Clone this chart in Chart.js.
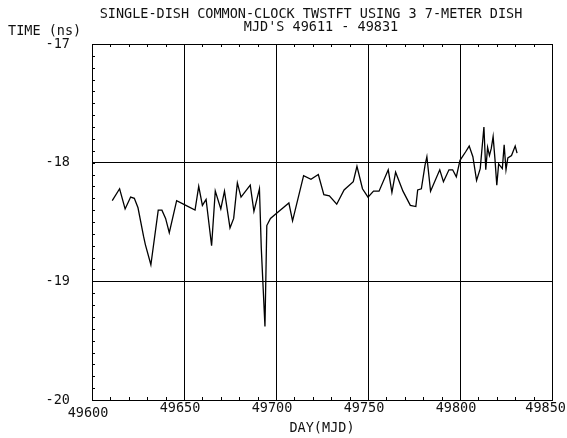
<!DOCTYPE html>
<html>
<head>
<meta charset="utf-8">
<script src="https://cdn.jsdelivr.net/npm/chart.js@4/dist/chart.umd.min.js"></script>
<style>
html,body{margin:0;padding:0;background:#fff;}
#wrap{width:567px;height:438px;}
</style>
</head>
<body>
<div id="wrap"><canvas id="c" width="567" height="438"></canvas></div>
<script>
// ---- data ----
const days = [49611,49615,49618,49621,49623,49625,49628,49629,49632,49636,49638,49640,49642,49646,
  49651,49656,49658,49660,49662,49665,49667,49670,49672,49675,49677,49679,49681,49686,49688,49691,
  49692,49694,49695,49697,49700,49707,49709,49715,49719,49723,49726,49729,49733,49737,49742,49744,
  49747,49750,49753,49756,49761,49763,49765,49769,49773,49776,49777,49779,49781,49782,49784,49789,
  49791,49794,49796,49798,49800,49803,49805,49807,49809,49811,49813,49814,49815,49816,49817,49818,
  49819,49820,49821,49823,49824,49825,49826,49828,49830,49831];
const timeNs = [-18.32,-18.22,-18.39,-18.29,-18.30,-18.38,-18.62,-18.69,-18.86,-18.40,-18.40,-18.47,-18.59,-18.32,
  -18.36,-18.40,-18.20,-18.36,-18.31,-18.70,-18.24,-18.39,-18.24,-18.55,-18.47,-18.17,-18.29,-18.19,-18.41,-18.22,
  -18.72,-19.38,-18.53,-18.47,-18.43,-18.34,-18.49,-18.11,-18.14,-18.10,-18.27,-18.28,-18.35,-18.23,-18.16,-18.03,
  -18.22,-18.29,-18.24,-18.24,-18.06,-18.25,-18.08,-18.24,-18.36,-18.37,-18.23,-18.22,-18.02,-17.95,-18.24,-18.06,
  -18.16,-18.06,-18.06,-18.12,-17.98,-17.91,-17.86,-17.95,-18.15,-18.05,-17.70,-18.06,-17.87,-17.94,-17.88,-17.78,
  -17.97,-18.19,-18.01,-18.05,-17.85,-18.06,-17.96,-17.94,-17.86,-17.92];
const xTickValues = [49600,49650,49700,49750,49800,49850];
const xTickLabels = ['49600','49650','49700','49750','49800','49850'];
const yTickValues = [-17,-18,-19,-20];
const yTickLabels = ['-17','-18','-19','-20'];
const titleLines = ['SINGLE-DISH COMMON-CLOCK TWSTFT USING 3 7-METER DISH', "MJD'S 49611 - 49831"];
const yAxisTitle = 'TIME (ns)';
const xAxisTitle = 'DAY(MJD)';

const FAMILY = '"DejaVu Sans Mono", "Liberation Mono", monospace';
const FONT = '13.5px ' + FAMILY;

const overlay = {
  id: 'overlay',
  afterDraw(chart) {
    const {ctx, chartArea: a, scales: {x, y}} = chart;
    ctx.save();
    ctx.strokeStyle = '#000';
    ctx.lineWidth = 1;
    ctx.beginPath();
    for (let i = 0; i <= 30; i++) {
      const v = -20 + i * 0.1;
      const py = Math.round(y.getPixelForValue(v)) + 0.5;
      ctx.moveTo(a.left, py); ctx.lineTo(a.left + 3, py);
    }
    for (let d = 49600; d <= 49850; d += 10) {
      const px = Math.round(x.getPixelForValue(d)) + 0.5;
      ctx.moveTo(px, a.top); ctx.lineTo(px, a.top + 3);
      ctx.moveTo(px, a.bottom); ctx.lineTo(px, a.bottom - 3);
    }
    ctx.stroke();

    ctx.fillStyle = '#111';
    ctx.font = FONT;
    ctx.textBaseline = 'middle';
    ctx.textAlign = 'center';
    ctx.fillText(titleLines[0], 311, 14);
    ctx.fillText(titleLines[1], 321, 27);
    ctx.textAlign = 'left';
    ctx.fillText(yAxisTitle, 8, 31);
    ctx.textAlign = 'center';
    xTickValues.forEach((v, i) => {
      let cx = x.getPixelForValue(v) - 4;
      const w = ctx.measureText(xTickLabels[i]).width;
      if (cx + w / 2 > 566) cx = 566 - w / 2;
      ctx.fillText(xTickLabels[i], cx, i === 0 ? 413 : 408);
    });
    ctx.fillText(xAxisTitle, (a.left + a.right) / 2, 428);
    ctx.restore();
  }
};

new Chart(document.getElementById('c'), {
  type: 'line',
  data: {
    datasets: [{
      data: days.map((d, i) => ({x: d, y: timeNs[i]})),
      borderColor: '#000',
      borderWidth: 1.3,
      pointRadius: 0,
      tension: 0,
      fill: false
    }]
  },
  options: {
    responsive: false,
    devicePixelRatio: 1,
    animation: false,
    layout: {padding: {left: 0, right: 15, top: 44, bottom: 0}},
    plugins: {legend: {display: false}, tooltip: {enabled: false}, title: {display: false}},
    scales: {
      x: {
        type: 'linear', min: 49600, max: 49850,
        afterBuildTicks: s => { s.ticks = xTickValues.map(v => ({value: v})); },
        ticks: {display: false},
        grid: {color: '#000', lineWidth: 1, drawTicks: false},
        border: {display: true, color: '#000', width: 1},
        afterFit: s => { s.height = 38; s.paddingLeft = 0; s.paddingRight = 0; }
      },
      y: {
        type: 'linear', min: -20, max: -17,
        afterBuildTicks: s => { s.ticks = yTickValues.map(v => ({value: v})); },
        ticks: {
          color: '#111', font: {family: FAMILY, size: 13.5},
          padding: 22,
          callback: v => yTickLabels[yTickValues.indexOf(v)]
        },
        grid: {color: '#000', lineWidth: 1, drawTicks: false},
        border: {display: true, color: '#000', width: 1},
        afterFit: s => { s.width = 92; s.paddingTop = 0; s.paddingBottom = 0; }
      }
    }
  },
  plugins: [overlay]
});
</script>
</body>
</html>
